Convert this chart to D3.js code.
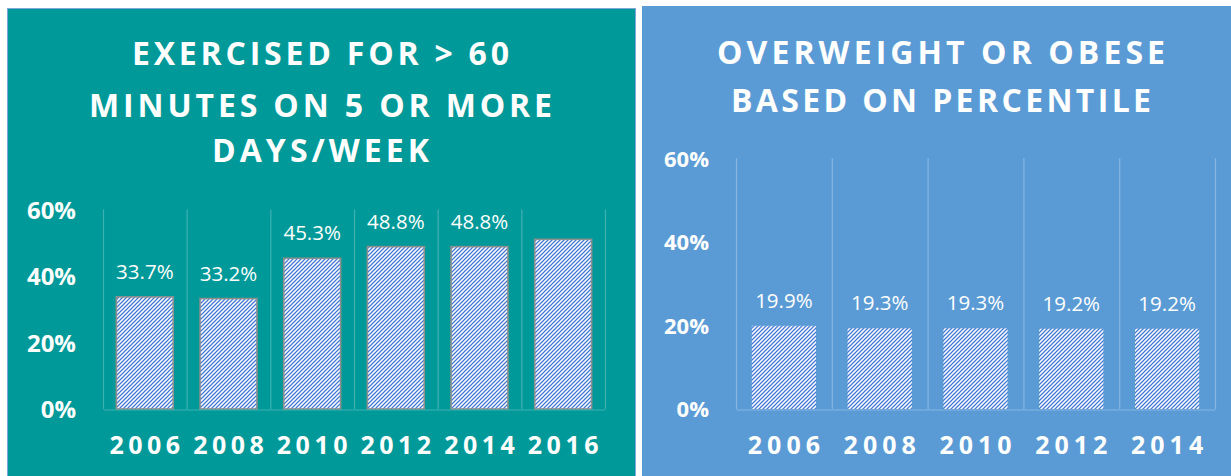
<!DOCTYPE html>
<html>
<head>
<meta charset="utf-8">
<script src="https://cdn.jsdelivr.net/npm/d3@7"></script>
<style>
  html, body { margin: 0; padding: 0; background: #ffffff; }
  svg { display: block; font-family: "Open Sans", "DejaVu Sans", sans-serif; }
</style>
</head>
<body>
<svg id="chart" width="1231" height="476"></svg>
<script>
// ---- data ----
const exerciseYears = ["2006", "2008", "2010", "2012", "2014", "2016"];
const exerciseValues = [33.7, 33.2, 45.3, 48.8, 48.8, 51.0];
const exerciseLabelled = [true, true, true, true, true, false];
const exerciseTitle = ["EXERCISED FOR > 60", "MINUTES ON 5 OR MORE", "DAYS/WEEK"];

const weightYears = ["2006", "2008", "2010", "2012", "2014"];
const weightValues = [19.9, 19.3, 19.3, 19.2, 19.2];
const weightLabelled = [true, true, true, true, true];
const weightTitle = ["OVERWEIGHT OR OBESE", "BASED ON PERCENTILE"];

const percentTicks = [0, 20, 40, 60];
const yMax = 60;

// ---- layout / style for the two panels ----
const panels = [
  {
    years: exerciseYears, values: exerciseValues, labelled: exerciseLabelled, title: exerciseTitle,
    box: { x: 7.5, y: 8.5, w: 628, h: 470 }, fill: "#009999", border: "#7ea6d8",
    grid: "#40b1b1",
    plot: { x0: 103, x1: 605, yTop: 209.4, yBottom: 409 },
    barFrac: 0.68, barStroke: "#8f8f8f",
    titleCx: 320.5, titleBase: [65, 117, 162], titleWidth: [377, 463, 217],
    tickFont: 24, yearSpacing: 4.5
  },
  {
    years: weightYears, values: weightValues, labelled: weightLabelled, title: weightTitle,
    box: { x: 642, y: 6, w: 589, h: 470 }, fill: "#5b9bd5", border: null,
    grid: "#88b6e3",
    plot: { x0: 736, x1: 1215, yTop: 158.2, yBottom: 409 },
    barFrac: 0.67, barStroke: null,
    titleCx: 941, titleBase: [64, 112], titleWidth: [448, 420],
    tickFont: 22, yearSpacing: 5
  }
];

const svg = d3.select("#chart");

// diagonal hatch used to fill every bar
const defs = svg.append("defs");
const hatch = defs.append("pattern")
  .attr("id", "hatch")
  .attr("patternUnits", "userSpaceOnUse")
  .attr("width", 4).attr("height", 4);
hatch.append("rect").attr("width", 4).attr("height", 4).attr("fill", "#ffffff");
hatch.append("path")
  .attr("d", "M-1,1 L1,-1 M0,4 L4,0 M3,5 L5,3")
  .attr("stroke", "#4278d2")
  .attr("stroke-width", 1.25);

panels.forEach(p => {
  const g = svg.append("g");

  // panel background
  g.append("rect")
    .attr("x", p.box.x).attr("y", p.box.y)
    .attr("width", p.box.w).attr("height", p.box.h)
    .attr("fill", p.fill)
    .attr("stroke", p.border || "none")
    .attr("stroke-width", 1);

  // title lines
  p.title.forEach((line, i) => {
    g.append("text")
      .attr("x", p.titleCx)
      .attr("y", p.titleBase[i])
      .attr("text-anchor", "middle")
      .attr("fill", "#ffffff")
      .attr("font-size", 32)
      .attr("font-weight", 700)
      .attr("textLength", p.titleWidth[i])
      .attr("lengthAdjust", "spacing")
      .text(line);
  });

  // scales
  const x = d3.scaleBand()
    .domain(p.years)
    .range([p.plot.x0, p.plot.x1])
    .padding(0);
  const y = d3.scaleLinear()
    .domain([0, yMax])
    .range([p.plot.yBottom, p.plot.yTop]);

  // vertical separators between categories
  const edges = p.years.map(d => x(d)).concat([p.plot.x1]);
  g.append("g").selectAll("line")
    .data(edges)
    .join("line")
    .attr("x1", d => d + 0.5).attr("x2", d => d + 0.5)
    .attr("y1", y(yMax)).attr("y2", y(0))
    .attr("stroke", p.grid)
    .attr("stroke-width", 1.2);

  // bars
  const bw = x.bandwidth() * p.barFrac;
  const data = p.years.map((yr, i) => ({ yr, v: p.values[i], lab: p.labelled[i] }));
  g.append("g").selectAll("rect")
    .data(data)
    .join("rect")
    .attr("x", d => x(d.yr) + (x.bandwidth() - bw) / 2)
    .attr("width", bw)
    .attr("y", d => y(d.v))
    .attr("height", d => y(0) - y(d.v))
    .attr("fill", "url(#hatch)")
    .attr("stroke", p.barStroke || "none")
    .attr("stroke-width", 1.6);

  // value labels
  g.append("g").selectAll("text")
    .data(data.filter(d => d.lab))
    .join("text")
    .attr("x", d => x(d.yr) + x.bandwidth() / 2)
    .attr("y", d => y(d.v) - 18)
    .attr("text-anchor", "middle")
    .attr("fill", "#ffffff")
    .attr("font-size", 20.5)
    .text(d => d3.format(".1f")(d.v) + "%");

  // y axis labels
  const yAxis = g.append("g")
    .attr("transform", `translate(${p.plot.x0},0)`)
    .call(d3.axisLeft(y).tickValues(percentTicks).tickSize(0).tickPadding(27).tickFormat(d => d + "%"));
  yAxis.select(".domain").remove();
  yAxis.selectAll("text")
    .attr("fill", "#ffffff")
    .attr("font-family", "Open Sans, sans-serif")
    .attr("font-size", p.tickFont)
    .attr("font-weight", 700)
    .attr("dy", "0.36em");

  // x axis: baseline and year labels
  const xAxis = g.append("g")
    .attr("transform", `translate(0,${p.plot.yBottom + 0.5})`)
    .call(d3.axisBottom(x).tickSize(0).tickSizeOuter(0));
  xAxis.select(".domain").attr("stroke", p.grid).attr("stroke-width", 1.2);
  xAxis.selectAll("text")
    .attr("fill", "#ffffff")
    .attr("font-family", "Open Sans, sans-serif")
    .attr("font-size", 25)
    .attr("font-weight", 700)
    .attr("letter-spacing", p.yearSpacing)
    .attr("y", 44)
    .attr("dy", 0)
    .attr("dx", p.yearSpacing / 2);
});
</script>
</body>
</html>
